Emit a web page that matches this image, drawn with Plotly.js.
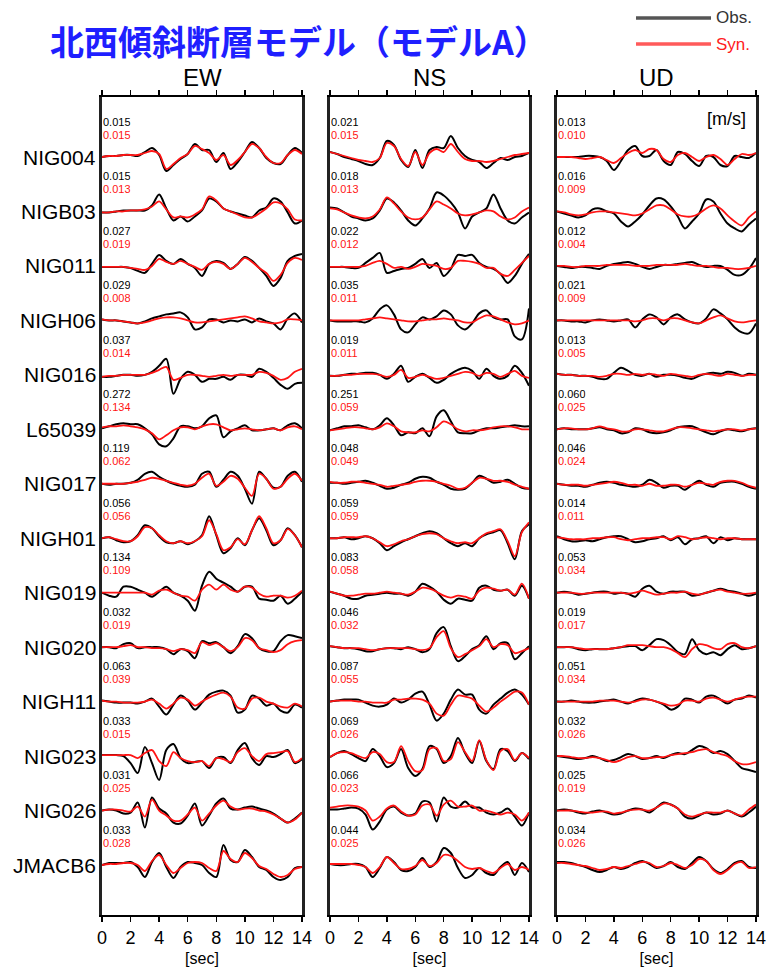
<!DOCTYPE html>
<html><head><meta charset="utf-8">
<script src="https://cdn.plot.ly/plotly-3.0.1.min.js"></script>
<style>body{margin:0;background:#fff}#plot{width:773px;height:976px}</style>
</head><body><div id="plot"></div>
<script>
// ---------- DATA ----------
const stations = ['NIG004','NIGB03','NIG011','NIGH06','NIG016','L65039','NIG017','NIGH01','NIG019','NIG020','NIGH11','NIG023','NIG026','JMACB6'];
const components = ['EW','NS','UD'];
const timeSec = [0,0.5,1,1.5,2,2.5,3,3.5,4,4.5,5,5.5,6,6.5,7,7.5,8,8.5,9,9.5,10,10.5,11,11.5,12,12.5,13,13.5,14];
const timeTicks = [0,2,4,6,8,10,12,14];

// peak amplitudes [m/s]
const ewObsMax = [0.015,0.015,0.027,0.029,0.037,0.272,0.119,0.056,0.134,0.032,0.063,0.033,0.031,0.033];
const ewSynMax = [0.015,0.013,0.019,0.008,0.014,0.134,0.062,0.056,0.109,0.019,0.039,0.015,0.025,0.028];
const nsObsMax = [0.021,0.018,0.022,0.035,0.019,0.251,0.048,0.059,0.083,0.046,0.087,0.069,0.066,0.044];
const nsSynMax = [0.015,0.013,0.012,0.011,0.011,0.059,0.049,0.059,0.058,0.032,0.055,0.026,0.023,0.025];
const udObsMax = [0.013,0.016,0.012,0.021,0.013,0.060,0.046,0.014,0.053,0.019,0.051,0.032,0.025,0.034];
const udSynMax = [0.010,0.009,0.004,0.009,0.005,0.025,0.024,0.011,0.034,0.017,0.034,0.026,0.019,0.026];

// relative (display-normalised) velocity waveforms, sampled every 0.5 s
const ewObs = [
[0,1,1,2,2,1,5,9,2,-14,-8,-2,3,13,7,7,-5,4,-12,-5,5,15,9,-1,-6,-7,2,9,4],
[-1,-1,0,1,1,1,1,6,17,3,-9,-5,-10,-5,1,13,10,3,0,-2,-4,-6,1,4,13,10,-1,-12,-9],
[-1,-1,-1,-1,-2,-5,-7,2,11,5,2,7,2,-2,-10,2,5,3,-3,2,9,5,-2,-10,-20,-12,5,10,12],
[1,0,0,-1,-2,-3,-1,2,4,6,7,8,3,-9,-7,1,1,-2,0,-1,1,-2,2,-1,-3,-9,2,7,-2],
[-2,-2,-1,0,0,-1,0,3,9,16,-19,-4,3,0,-7,-4,-4,-2,-5,0,0,-2,6,3,-3,-10,-14,-9,-8],
[1,3,5,6,5,5,1,-5,-15,-17,-9,3,3,1,3,11,14,-8,-2,1,4,-1,-1,0,1,-1,4,6,1],
[0,-1,0,0,1,4,10,12,7,3,0,-2,-3,-1,10,12,-3,4,12,8,-5,-20,12,5,-4,-3,8,12,2],
[0,1,-2,-4,-3,3,13,10,2,-4,-5,-3,-6,-3,3,22,3,-15,-10,0,-7,8,20,8,-7,-2,10,3,-9],
[0,-3,-4,6,6,3,0,-4,1,6,0,-3,-8,-18,7,21,14,10,6,1,6,6,-6,-7,-8,-3,-11,-6,1],
[0,0,-1,3,4,-1,0,0,0,-2,-7,-2,-4,-11,6,4,5,0,-6,1,13,9,-1,-4,-4,6,12,11,9],
[1,0,-1,-1,-1,-2,0,3,-5,-13,-3,6,1,-8,-1,7,10,11,6,-11,-8,6,3,-4,-2,-9,-11,-3,-6],
[1,1,1,0,-7,-17,9,-7,-24,6,12,-2,-7,-6,-5,-12,-2,-1,-7,6,13,-2,-9,0,-1,2,6,-7,-3],
[0,1,0,-3,-2,8,-17,13,2,-3,-12,-13,-5,7,-15,-5,7,12,2,1,3,4,2,0,-3,-8,-12,-8,-2],
[0,2,2,2,3,-2,-12,3,12,-2,-13,-2,3,2,0,-8,-12,20,5,3,15,8,-2,-5,-12,-15,-12,-3,-2]];
const ewSyn = [
[0,1,1,2,2,2,4,6,3,-12,-7,-1,3,11,8,4,-3,2,-8,-3,5,13,9,0,-6,-6,2,7,3],
[-1,-1,0,0,1,1,2,5,10,2,-6,-5,-6,-3,2,15,11,3,0,-3,-6,-6,-2,3,9,8,2,-8,-9],
[-1,-1,-1,-1,-2,-3,-4,0,7,4,2,5,2,-1,-4,2,4,2,-3,2,8,4,-2,-7,-15,-9,3,8,6],
[1,0,0,-1,-2,-3,-2,0,2,3,3,2,0,-2,-2,-1,0,1,2,3,4,2,-1,-2,-3,-2,1,1,0],
[-2,-1,-1,0,0,0,0,2,5,8,-5,-3,0,0,-1,-2,-1,0,-1,0,0,0,3,2,-1,-5,-3,3,6],
[2,3,3,4,3,2,0,-4,-10,-6,-1,2,2,0,3,5,5,2,-1,0,1,0,-1,0,1,-1,2,3,0],
[0,0,0,0,1,2,4,6,5,3,1,-1,-2,0,6,10,-2,2,8,5,-4,-12,10,5,-5,-3,5,10,3],
[0,1,-1,-3,-3,2,11,10,3,-3,-5,-3,-5,-3,2,18,4,-12,-9,-1,-6,8,22,10,-5,-2,9,3,-9],
[0,0,0,0,0,0,0,-2,2,3,0,-3,-4,-8,3,8,3,8,3,1,6,5,-1,-4,-3,-3,-5,-3,2],
[0,0,0,1,2,0,0,-1,-1,-2,-4,-2,-3,-6,5,2,4,0,-4,0,9,7,-1,-3,-5,-3,3,6,7],
[1,0,0,-1,-1,-1,0,2,-2,-7,-2,4,2,-4,0,4,7,9,5,-6,-7,3,4,0,-2,-5,-6,-2,-5],
[1,1,1,1,1,-2,3,6,-5,-10,4,-2,-5,-6,-5,-10,-2,-3,-6,4,8,0,-5,2,3,4,5,-6,-2],
[0,1,1,0,-1,4,-6,11,0,-5,-10,-10,-4,3,-10,-3,5,10,4,1,2,2,0,-1,-4,-8,-12,-9,-2],
[0,1,1,2,2,0,-6,4,10,0,-8,-3,2,3,2,-3,-6,14,6,3,12,7,-1,-4,-9,-12,-10,-4,-2]];
const nsObs = [
[5,3,0,-2,-4,-7,-8,-1,16,12,-3,-10,7,-11,7,10,9,21,9,1,-3,-5,-11,-6,-1,-3,0,1,4],
[4,3,-1,-5,-7,-9,-7,1,13,9,1,-9,-14,-7,3,19,16,9,-1,-17,-5,-1,3,17,3,-9,-12,-6,-1],
[-1,-1,-1,-2,-2,3,8,13,-7,-5,-3,-2,2,7,-2,3,-10,-3,11,10,11,3,-1,-3,-8,-17,-10,2,12],
[0,-1,-1,-1,-1,-2,2,11,15,6,-9,-12,-4,3,1,4,10,6,-5,-9,-3,7,10,3,1,1,-16,-19,12],
[-1,-1,0,1,1,2,2,0,-4,1,9,-7,-2,1,-3,-8,-5,1,5,7,4,-4,6,-1,-4,-1,9,2,-11],
[-1,1,3,3,4,2,0,4,11,4,-6,-3,-4,1,-7,13,19,8,-3,-4,-4,-1,1,1,2,3,4,3,3],
[1,1,0,1,2,3,1,-2,-5,-4,-1,1,5,7,6,2,-1,-5,-6,-5,1,8,5,1,2,4,0,-4,-5],
[0,0,1,-1,0,2,0,-5,-12,-8,-4,-1,2,5,7,5,0,-5,-8,-5,-8,0,4,6,8,-5,-21,7,14],
[1,-1,-3,-6,-6,-3,-2,-1,0,-1,-1,-3,1,9,6,1,-7,-11,-6,-7,-8,5,7,3,2,3,-3,7,-6],
[1,0,-1,-1,-2,-4,-4,-2,-1,-1,-2,0,-2,-5,-2,14,20,1,-14,-9,-2,2,11,-2,4,4,-12,-6,1],
[0,1,2,2,2,-1,-4,-5,-3,3,-1,2,8,10,-3,-19,-12,2,12,7,7,-8,-12,-3,3,9,12,7,-3],
[-1,3,5,2,-2,-5,7,0,-11,-7,7,-12,-20,-13,10,7,-7,0,18,3,-7,15,-5,-13,7,5,-5,3,-3],
[1,1,2,3,2,-4,-19,-11,1,4,-2,-5,-3,9,8,-11,13,4,3,9,3,3,-2,-4,-2,2,-6,-15,-2],
[1,0,0,1,1,-2,-12,-3,8,3,-5,-6,-2,7,-2,3,17,12,-3,-13,-10,-3,-8,-10,-2,3,-10,2,-7]];
const nsSyn = [
[5,3,1,-1,-3,-4,-5,-1,14,11,-2,-9,5,-8,4,8,5,13,5,-2,-4,-4,-5,-4,-2,0,2,3,4],
[3,2,-1,-4,-6,-7,-5,2,14,8,0,-6,-8,-6,2,10,7,3,-2,-4,-3,-1,1,0,-5,-8,-6,0,4],
[-1,-1,-1,-1,-1,0,3,5,2,-2,-1,-3,-1,2,1,0,-3,-2,5,5,4,2,-2,-2,-8,-10,-4,3,10],
[0,0,0,0,0,1,2,3,2,1,0,-1,-1,0,1,1,2,1,0,-2,-2,2,5,4,1,-2,-4,-3,0],
[-1,-1,0,0,1,1,1,0,-2,0,5,-3,-2,0,-2,-4,-3,-1,1,3,2,-1,2,1,-2,1,4,-1,-3],
[-1,0,1,2,2,1,0,2,6,3,-2,-3,-3,-1,-2,2,8,5,0,-2,-1,-1,0,2,3,3,2,0,0],
[2,1,1,2,2,1,0,-1,-3,-2,-1,0,2,3,3,2,0,-2,-5,-4,1,6,5,3,3,2,-1,-3,-5],
[0,0,1,1,1,2,0,-4,-8,-6,-3,-1,2,4,5,4,0,-3,-5,-4,-5,0,5,7,9,-3,-18,6,16],
[1,-1,-3,-3,-2,-1,-1,0,1,0,-1,-2,1,5,4,1,-3,-5,-3,-4,-6,2,5,4,2,3,-2,9,-6],
[1,0,-1,-1,-1,-2,-3,-2,-1,-1,-1,-1,-2,-3,-1,10,16,-1,-10,-7,-3,1,8,0,3,2,-6,-4,-1],
[0,1,1,1,0,0,-1,-1,-1,2,2,3,3,2,-2,-12,-14,-3,6,5,3,-4,-10,-6,0,5,10,9,-3],
[-1,3,4,3,0,-2,4,2,-6,-6,10,-5,-15,-14,7,8,-5,-3,14,4,-5,16,-4,-14,5,7,-4,3,-2],
[3,4,5,5,4,0,-10,-6,2,5,-1,-5,-4,5,6,-5,6,10,4,4,5,0,0,-2,-4,-2,-4,-10,-2],
[1,1,1,1,0,-2,-8,-2,8,2,-4,-4,-1,5,-1,2,10,9,4,-2,-4,-3,-6,-8,-3,1,-5,-2,-5]];
const udObs = [
[0,0,0,0,1,1,0,-4,-13,-4,7,11,1,1,7,-4,-8,5,3,-4,-9,1,0,-8,-9,1,0,-1,4],
[0,-2,-4,-6,-4,2,3,0,-2,-10,-15,-10,-3,6,13,12,5,-5,-17,-10,-2,12,10,-2,-12,-17,-20,-13,-7],
[0,-1,-2,-1,-1,-2,-3,0,2,3,4,2,-1,-3,-1,1,1,2,3,4,1,-1,0,0,-4,-9,-9,-3,8],
[0,0,-1,-1,-2,0,1,0,-1,0,1,-7,1,6,3,-4,3,6,1,-2,-3,2,11,7,1,-7,-12,-13,-3],
[1,0,0,-1,-1,-2,-4,-4,2,7,4,0,-1,1,-2,0,0,-1,-3,-4,-1,1,2,1,3,2,-1,1,0],
[0,1,0,0,0,1,2,0,-1,-4,-3,1,0,-3,-4,-3,-1,2,3,3,0,-3,-5,-2,0,-1,-2,0,1],
[0,-1,-2,-2,-3,-1,1,2,1,-1,-2,-3,-1,4,1,-4,-2,-2,-6,-1,3,-1,-3,1,2,2,0,-3,-5],
[2,-1,-3,-3,-2,-3,-1,1,2,2,-1,-4,-3,-1,0,2,-2,1,-6,-1,0,2,-5,1,-2,0,-1,-1,-1],
[0,1,0,-2,-1,0,1,1,-1,0,-1,-4,4,7,1,-1,1,1,1,-3,-2,0,2,4,2,1,-1,-3,-1],
[0,0,0,-2,-3,-2,-2,-2,-1,0,1,1,-3,2,8,7,2,-5,-7,8,-3,-7,-5,-8,-2,2,-2,-1,1],
[0,0,1,0,-1,-1,0,1,2,0,-2,1,3,2,0,-3,-8,-5,3,2,-1,5,6,2,-2,2,3,6,4],
[0,-1,-2,-3,-2,0,-2,-5,-4,-1,2,0,-3,-2,0,-2,1,3,2,6,10,8,3,5,2,-5,-12,-14,-16],
[0,1,0,-2,-3,-1,0,-2,-4,-3,0,2,1,-2,3,8,6,2,-6,-8,-5,-2,-4,-3,0,-3,-6,-2,4],
[3,3,2,0,-2,-5,-7,-5,-2,-4,-2,2,4,1,-3,-1,3,-2,-4,2,8,4,-4,-8,-4,2,4,-2,-3]];
const udSyn = [
[0,0,0,-1,-2,-1,0,-3,-6,-1,4,7,4,8,7,-2,-5,2,4,0,-4,0,2,-2,-8,-2,3,2,4],
[0,-1,-3,-4,-3,-1,0,0,-1,-2,-3,-4,-2,2,6,6,2,-3,-5,-5,-2,3,6,3,-4,-10,-14,-6,0],
[0,0,-1,-1,0,0,0,1,1,1,1,0,0,0,1,1,1,1,2,1,0,0,-1,-2,-2,-3,-3,-2,0],
[0,0,0,0,0,0,0,0,0,0,0,-1,0,2,2,0,2,2,0,-2,-3,0,3,5,2,-1,-2,-1,0],
[1,0,0,-1,-1,-1,-2,-1,1,1,0,1,0,1,0,-1,1,0,-1,-2,0,1,0,-1,1,0,-1,0,0],
[0,1,1,0,0,1,3,1,0,-2,-2,0,0,-1,-2,-2,0,2,2,1,0,-1,-2,-1,0,0,-1,0,1],
[0,-1,-1,-1,-2,-1,0,1,2,1,-1,-1,-2,0,-2,-2,-1,-1,-3,-1,1,0,-1,2,3,3,1,-2,-4],
[1,0,-1,-1,-1,0,0,1,1,-1,-2,-1,0,0,1,1,-1,2,1,-1,0,1,0,-1,0,0,-1,-1,-1],
[0,0,0,-1,-1,0,0,0,0,0,-1,0,2,0,-2,-1,0,0,1,-1,-2,0,2,3,1,0,-1,-1,0],
[0,0,0,-1,-2,-2,-2,-2,-1,0,2,2,2,1,0,0,-2,-6,-10,-2,3,2,-1,-2,3,4,0,-1,1],
[0,0,0,0,0,0,1,1,1,0,-1,0,2,2,0,-2,-4,-3,1,1,0,3,4,2,0,2,4,5,5],
[0,0,-1,-2,-2,-1,-2,-4,-6,-4,-1,0,-2,-2,-1,-1,1,2,3,4,6,7,4,2,0,-5,-8,-8,-6],
[0,0,0,-1,-2,-2,-1,-1,-3,-2,0,1,1,0,3,7,6,2,-4,-6,-4,-2,-2,-2,0,-3,-5,1,6],
[2,2,1,0,-1,-3,-5,-4,-2,-3,-1,1,3,2,-2,-1,2,0,-3,0,6,4,-5,-9,-5,1,3,-3,-2]];

// ---------- LAYOUT CONSTANTS ----------
const W = 773, H = 976;
const rowPx = 54.46;            // vertical spacing of traces in pixels
const gain = 1 / rowPx;         // display gain (one waveform unit = 1 px)
const panelPx = [[102,302],[330,529],[557,756]];
const plotTop = 97, plotBot = 915;
const yRange = [-13 - (plotBot-865)/rowPx, (157-plotTop)/rowPx];
const FONT = 'Liberation Sans, Arial, Helvetica, sans-serif';
const RED = 'rgb(255,20,20)';

const obsAll = [ewObs, nsObs, udObs], synAll = [ewSyn, nsSyn, udSyn];
const obsMaxAll = [ewObsMax, nsObsMax, udObsMax], synMaxAll = [ewSynMax, nsSynMax, udSynMax];

const traces = [], annotations = [], shapes = [];
const layout = {
  width: W, height: H, margin: {l:0, r:0, t:0, b:0},
  paper_bgcolor: '#fff', plot_bgcolor: '#fff', showlegend: false,
  font: {family: FONT, color: '#000'}
};

components.forEach((comp, k) => {
  const xa = k === 0 ? 'x' : 'x' + (k+1);
  const ya = k === 0 ? 'y' : 'y' + (k+1);
  const xKey = k === 0 ? 'xaxis' : 'xaxis' + (k+1);
  const yKey = k === 0 ? 'yaxis' : 'yaxis' + (k+1);
  layout[xKey] = {
    domain: [panelPx[k][0]/W, panelPx[k][1]/W], range: [0, 14], anchor: ya,
    tickmode: 'array', tickvals: timeTicks, ticktext: timeTicks.map(String),
    ticks: 'outside', ticklen: 5, tickwidth: 1.5, tickcolor: '#000',
    showline: true, linewidth: 2, linecolor: '#000', mirror: 'ticks',
    showgrid: false, zeroline: false,
    tickfont: {size: 18, family: FONT, color: '#000'},
    title: {text: '[sec]', font: {size: 16, family: FONT, color: '#000'}, standoff: 6}
  };
  layout[yKey] = {
    domain: [(H-plotBot)/H, (H-plotTop)/H], range: yRange, anchor: xa,
    showline: true, linewidth: 3, linecolor: '#222', mirror: true,
    showticklabels: false, ticks: '', showgrid: false, zeroline: false
  };
  stations.forEach((st, i) => {
    traces.push({
      x: timeSec, y: obsAll[k][i].map(v => -i + v*gain), xaxis: xa, yaxis: ya,
      type: 'scatter', mode: 'lines', line: {color: '#000', width: 2, shape: 'spline', smoothing: 0.9},
      hoverinfo: 'skip'
    });
    traces.push({
      x: timeSec, y: synAll[k][i].map(v => -i + v*gain), xaxis: xa, yaxis: ya,
      type: 'scatter', mode: 'lines', line: {color: RED, width: 1.8, shape: 'spline', smoothing: 0.9},
      hoverinfo: 'skip'
    });
    annotations.push({xref: xa, yref: ya, x: 0, y: -i + 0.648, xanchor: 'left', yanchor: 'middle',
      height: 10, borderpad: 0,
      text: obsMaxAll[k][i].toFixed(3), showarrow: false, font: {size: 11, family: FONT, color: '#000'}});
    annotations.push({xref: xa, yref: ya, x: 0, y: -i + 0.41, xanchor: 'left', yanchor: 'middle',
      height: 10, borderpad: 0,
      text: synMaxAll[k][i].toFixed(3), showarrow: false, font: {size: 11, family: FONT, color: RED}});
  });
  annotations.push({xref: xa, yref: 'paper', x: 7, y: 1 - 77/H, xanchor: 'center', yanchor: 'middle',
    text: comp, showarrow: false, font: {size: 24, family: FONT, color: '#000'}});
});

// station names
stations.forEach((st, i) => {
  annotations.push({xref: 'paper', yref: 'y', x: 98/W, y: -i, xanchor: 'right', yanchor: 'middle',
    text: st, showarrow: false, font: {size: 21, family: FONT, color: '#000'}});
});

// unit
annotations.push({xref: 'paper', yref: 'paper', x: 726/W, y: 1 - 119/H, xanchor: 'center', yanchor: 'middle',
  text: '[m/s]', showarrow: false, font: {size: 18, family: FONT, color: '#000'}});

// title
annotations.push({xref: 'paper', yref: 'paper', x: 48/W, y: 1 - 40/H, xanchor: 'left', yanchor: 'middle',
  text: '<b>北西傾斜断層モデル（モデルA）</b>', showarrow: false,
  font: {size: 34, family: 'Noto Sans CJK JP, sans-serif', color: '#1f1fff'}});

// legend
shapes.push({type: 'line', xref: 'paper', yref: 'paper', x0: 636/W, x1: 711/W, y0: 1 - 18/H, y1: 1 - 18/H,
  line: {color: '#555', width: 3.5}});
shapes.push({type: 'line', xref: 'paper', yref: 'paper', x0: 636/W, x1: 711/W, y0: 1 - 44/H, y1: 1 - 44/H,
  line: {color: '#ff5a5a', width: 3.5}});
annotations.push({xref: 'paper', yref: 'paper', x: 714/W, y: 1 - 18/H, xanchor: 'left', yanchor: 'middle',
  text: 'Obs.', showarrow: false, font: {size: 17, family: FONT, color: '#333'}});
annotations.push({xref: 'paper', yref: 'paper', x: 714/W, y: 1 - 45/H, xanchor: 'left', yanchor: 'middle',
  text: 'Syn.', showarrow: false, font: {size: 17, family: FONT, color: '#ff2020'}});

layout.annotations = annotations;
layout.shapes = shapes;

Plotly.newPlot('plot', traces, layout, {displayModeBar: false, staticPlot: true});
</script></body></html>
